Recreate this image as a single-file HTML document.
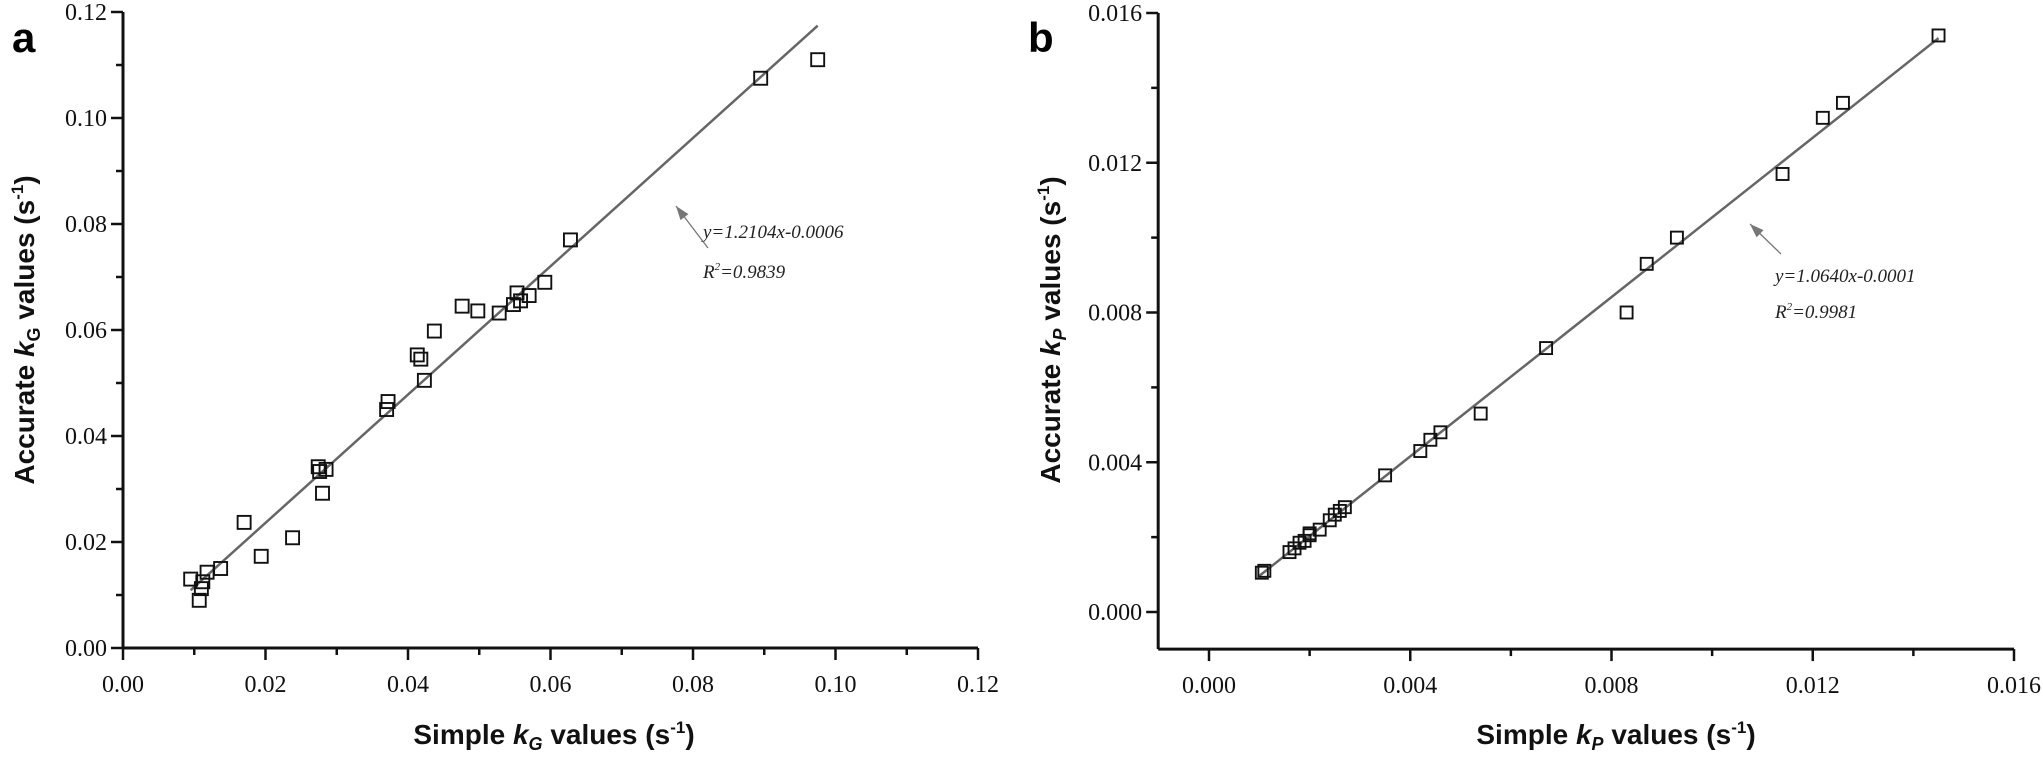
<!DOCTYPE html>
<html><head><meta charset="utf-8"><style>
html,body{margin:0;padding:0;background:#fff;}
svg{display:block;}
.tk{font-family:"Liberation Serif",serif;font-size:24px;fill:#111;}
.ttl{font-family:"Liberation Sans",sans-serif;font-weight:bold;font-size:28px;fill:#111;}
.ann{font-family:"Liberation Serif",serif;font-style:italic;font-size:19px;fill:#222;}
</style></head><body>
<svg id="svg" width="2043" height="758" viewBox="0 0 2043 758">
<text x="12" y="52" font-family="Liberation Sans,sans-serif" font-weight="bold" font-size="42">a</text>
<text x="1028" y="52" font-family="Liberation Sans,sans-serif" font-weight="bold" font-size="42">b</text>
<text class="ttl" transform="translate(34,330) rotate(-90)" text-anchor="middle">Accurate <tspan font-style="italic">k</tspan><tspan font-size="18" dy="6">G</tspan><tspan dy="-6"> values (s</tspan><tspan font-size="17" dy="-11">-1</tspan><tspan dy="11">)</tspan></text>
<text class="ttl" x="554" y="744" text-anchor="middle">Simple <tspan font-style="italic">k</tspan><tspan font-size="18" dy="6" font-style="italic">G</tspan><tspan dy="-6"> values (s</tspan><tspan font-size="17" dy="-11">-1</tspan><tspan dy="11">)</tspan></text>
<text class="ttl" transform="translate(1060,330) rotate(-90)" text-anchor="middle">Accurate <tspan font-style="italic">k</tspan><tspan font-size="18" dy="6" font-style="italic">P</tspan><tspan dy="-6"> values (s</tspan><tspan font-size="17" dy="-11">-1</tspan><tspan dy="11">)</tspan></text>
<text class="ttl" x="1616" y="744" text-anchor="middle">Simple <tspan font-style="italic">k</tspan><tspan font-size="18" dy="6" font-style="italic">P</tspan><tspan dy="-6"> values (s</tspan><tspan font-size="17" dy="-11">-1</tspan><tspan dy="11">)</tspan></text>
<text class="ann" x="703" y="238">y=1.2104x-0.0006</text>
<text class="ann" x="703" y="278">R<tspan font-size="11" dy="-8">2</tspan><tspan dy="8">=0.9839</tspan></text>
<text class="ann" x="1775" y="282">y=1.0640x-0.0001</text>
<text class="ann" x="1775" y="318">R<tspan font-size="11" dy="-8">2</tspan><tspan dy="8">=0.9981</tspan></text>
</svg>
<script>
// Panel a data
const aSimple = [0.0095,0.0107,0.011,0.0112,0.0118,0.0137,0.017,0.0194,0.0238,0.0274,0.0276,0.0285,0.028,0.037,0.0372,0.0413,0.0418,0.0423,0.0437,0.0476,0.0498,0.0528,0.0548,0.0553,0.0558,0.057,0.0592,0.0628,0.0895,0.0975];
const aAccurate = [0.013,0.009,0.0112,0.0125,0.0143,0.015,0.0237,0.0173,0.0208,0.0342,0.0333,0.0337,0.0292,0.045,0.0465,0.0553,0.0545,0.0505,0.0598,0.0645,0.0636,0.0632,0.0648,0.067,0.0655,0.0665,0.069,0.077,0.1075,0.111];
const aFit = [1.2104, -0.0006];
const aFitRange = [0.0095, 0.0975];
const aXTicks = ["0.00","0.02","0.04","0.06","0.08","0.10","0.12"];
const aYTicks = ["0.00","0.02","0.04","0.06","0.08","0.10","0.12"];
// Panel b data
const bSimple = [0.00105,0.0011,0.0016,0.0017,0.0018,0.0019,0.002,0.002,0.0022,0.0024,0.0025,0.0026,0.0027,0.0035,0.0042,0.0044,0.0046,0.0054,0.0067,0.0083,0.0087,0.0093,0.0114,0.0122,0.0126,0.0145];
const bAccurate = [0.00105,0.0011,0.0016,0.0017,0.00185,0.0019,0.00205,0.0021,0.0022,0.00245,0.0026,0.0027,0.0028,0.00365,0.0043,0.0046,0.0048,0.0053,0.00705,0.008,0.0093,0.01,0.0117,0.0132,0.0136,0.0154];
const bFit = [1.064, -0.0001];
const bFitRange = [0.001, 0.0145];
const bXTicks = ["0.000","0.004","0.008","0.012","0.016"];
const bYTicks = ["0.000","0.004","0.008","0.012","0.016"];

const NS="http://www.w3.org/2000/svg";
const svg=document.getElementById('svg');
function mk(tag,attrs){const e=document.createElementNS(NS,tag);for(const k in attrs)e.setAttribute(k,attrs[k]);svg.appendChild(e);return e;}

function panel(p,cfg){
  const sx=v=>cfg.px0+(v-cfg.x0)/(cfg.x1-cfg.x0)*(cfg.px1-cfg.px0);
  const sy=v=>cfg.py0-(v-cfg.y0)/(cfg.y1-cfg.y0)*(cfg.py0-cfg.py1);
  const axL=sx(cfg.xmin), axB=sy(cfg.ymin);
  let ax=mk('line',{x1:axL,y1:axB,x2:sx(cfg.x1),y2:axB,stroke:'#111','stroke-width':3});
  
  
  let ay=mk('line',{x1:axL,y1:axB,x2:axL,y2:sy(cfg.y1),stroke:'#111','stroke-width':3});
  
  
  const xstep=(cfg.x1-cfg.x0)/(cfg.xt.length-1);
  for(let i=0;i<cfg.xt.length;i++){
    const v=cfg.x0+i*xstep, x=sx(v);
    const t=mk('line',{x1:x,y1:axB,x2:x,y2:axB+12,stroke:'#111','stroke-width':2.5});
    
    
    const l=mk('text',{x:x,y:axB+44,'text-anchor':'middle',class:'tk'});l.textContent=cfg.xt[i];
    
    
    if(i<cfg.xt.length-1){const m=sx(v+xstep/2);
      const mt=mk('line',{x1:m,y1:axB,x2:m,y2:axB+7,stroke:'#111','stroke-width':2.5});
      
      }
  }
  const ystep=(cfg.y1-cfg.y0)/(cfg.yt.length-1);
  for(let i=0;i<cfg.yt.length;i++){
    const v=cfg.y0+i*ystep, y=sy(v);
    const t=mk('line',{x1:axL-12,y1:y,x2:axL,y2:y,stroke:'#111','stroke-width':2.5});
    
    
    const l=mk('text',{x:axL-16,y:y+8,'text-anchor':'end',class:'tk'});l.textContent=cfg.yt[i];
    
    
    if(i<cfg.yt.length-1){const m=sy(v+ystep/2);
      const mt=mk('line',{x1:axL-7,y1:m,x2:axL,y2:m,stroke:'#111','stroke-width':2.5});
      
      }
  }
  const f=cfg.fit, r=cfg.fr;
  const fl=mk('line',{x1:sx(r[0]),y1:sy(f[0]*r[0]+f[1]),x2:sx(r[1]),y2:sy(f[0]*r[1]+f[1]),stroke:'#666','stroke-width':2.5});
  
  
  for(let i=0;i<cfg.xs.length;i++){
    const s=cfg.ms;
    const r2=mk('rect',{x:sx(cfg.xs[i])-s/2,y:sy(cfg.ys[i])-s/2,width:s,height:s,fill:'none',stroke:'#111','stroke-width':1.9});
    
    
  }
  const a=cfg.arrow;
  const al=mk('line',{x1:a[2],y1:a[3],x2:a[0],y2:a[1],stroke:'#777','stroke-width':1.3});
  
  
  const ang=Math.atan2(a[1]-a[3],a[0]-a[2]),L=14,W=5;
  const bx=a[0]-L*Math.cos(ang), by=a[1]-L*Math.sin(ang);
  const ah=mk('polygon',{points:`${a[0]},${a[1]} ${bx+W*Math.sin(ang)},${by-W*Math.cos(ang)} ${bx-W*Math.sin(ang)},${by+W*Math.cos(ang)}`,fill:'#777'});
  
  
}
panel('panel-a',{x0:0,x1:0.12,px0:123,px1:978,y0:0,y1:0.12,py0:648,py1:12,xmin:0,ymin:0,
  xt:aXTicks,yt:aYTicks,xs:aSimple,ys:aAccurate,fit:aFit,fr:aFitRange,ms:13,arrow:[676,206,708,248]});
panel('panel-b',{x0:0,x1:0.016,px0:1209,px1:2014,y0:0,y1:0.016,py0:612,py1:13,xmin:-0.00101,ymin:-0.00099,
  xt:bXTicks,yt:bYTicks,xs:bSimple,ys:bAccurate,fit:bFit,fr:bFitRange,ms:12,arrow:[1750,224,1781,254]});
</script>
</body></html>
